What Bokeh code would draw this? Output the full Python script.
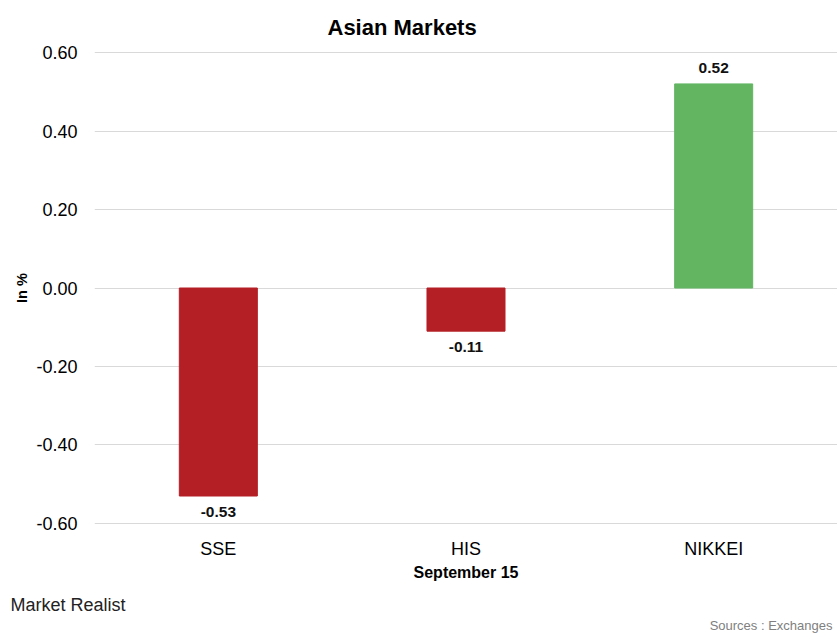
from bokeh.plotting import figure
from bokeh.models import ColumnDataSource, FactorRange, Range1d, Title, NumeralTickFormatter, FixedTicker
from bokeh.core.properties import value
from bokeh.embed import file_html
from bokeh.resources import INLINE

categories = ["SSE", "HIS", "NIKKEI"]
changes = [-0.53, -0.11, 0.52]
bar_colors = ["#B41F25", "#B41F25", "#63B562"]
y_ticks = [-0.6, -0.4, -0.2, 0.0, 0.2, 0.4, 0.6]

FONT = "Liberation Sans"

src = ColumnDataSource(dict(
    cat=categories,
    val=changes,
    color=bar_colors,
    label=["%.2f" % v for v in changes],
    baseline=["bottom" if v >= 0 else "top" for v in changes],
    yoff=[-11 if v >= 0 else 11 for v in changes],
))

p = figure(width=837, height=633, output_backend="svg", toolbar_location=None,
           x_range=FactorRange(factors=categories, range_padding=0),
           y_range=Range1d(-0.6026, 0.6026),
           min_border_left=94, min_border_right=0, min_border_top=51, min_border_bottom=109)
p.outline_line_color = None
p.background_fill_color = "white"
p.border_fill_color = "white"

p.vbar(x="cat", top="val", bottom=0, width=0.315, color="color", source=src)

p.text(x="cat", y="val", text="label", source=src, y_offset="yoff",
       text_baseline="baseline", text_align="center",
       text_font=value(FONT), text_font_style="bold", text_font_size="15.5px",
       text_color="#111111")

p.title.text = "Asian Markets"
p.title.align = "left"
p.title.offset = 233
p.title.text_font = FONT
p.title.text_font_size = "22px"
p.title.text_font_style = "bold"
p.title.standoff = 24
p.title.text_color = "#000000"

p.yaxis.ticker = FixedTicker(ticks=y_ticks)
p.yaxis.formatter = NumeralTickFormatter(format="0.00")
p.yaxis.axis_label = "In %"
p.yaxis.axis_label_text_font = FONT
p.yaxis.axis_label_text_font_style = "bold"
p.yaxis.axis_label_text_font_size = "14.5px"
p.yaxis.axis_label_standoff = 3
p.yaxis.major_label_text_font = FONT
p.yaxis.major_label_text_font_size = "18px"
p.yaxis.major_label_standoff = 17

p.xaxis.axis_label = "September 15"
p.xaxis.axis_label_text_font = FONT
p.xaxis.axis_label_text_font_style = "bold"
p.xaxis.axis_label_text_font_size = "16px"
p.xaxis.axis_label_standoff = 2
p.xaxis.major_label_text_font = FONT
p.xaxis.major_label_text_font_size = "18px"
p.xaxis.major_label_standoff = 14

for ax in (p.xaxis, p.yaxis):
    ax.axis_line_color = None
    ax.major_tick_line_color = None
    ax.minor_tick_line_color = None
    ax.major_tick_out = 0
    ax.major_tick_in = 0
    ax.minor_tick_out = 0
    ax.major_label_text_color = "#000000"
    ax.axis_label_text_color = "#000000"

p.xgrid.grid_line_color = None
p.ygrid.grid_line_color = "#D9D9D9"
p.ygrid.grid_line_width = 1

p.add_layout(Title(text="Market Realist", align="left", offset=-84,
                   text_font=FONT, text_font_size="18px", text_font_style="normal",
                   text_color="#222222", standoff=18), "below")
p.add_layout(Title(text="Sources : Exchanges", align="right", offset=5,
                   text_font=FONT, text_font_size="13px", text_font_style="normal",
                   text_color="#808080", standoff=-15), "below")

open("out.html", "w").write(file_html(p, INLINE))
